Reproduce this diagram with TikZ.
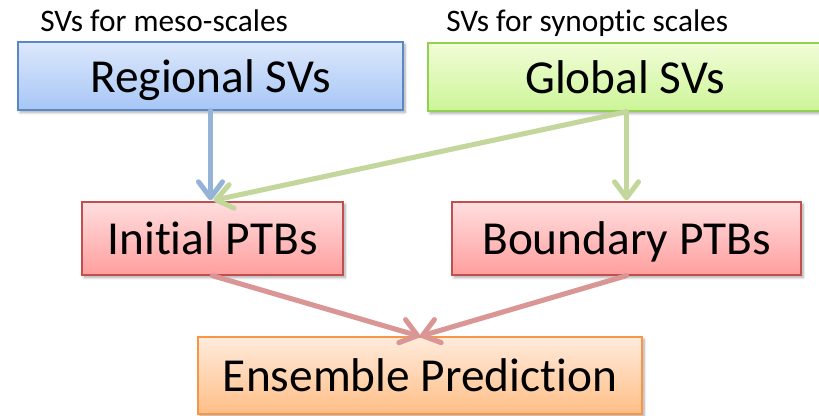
\documentclass[tikz,border=0pt]{standalone}
\usepackage{fontspec}
\setmainfont[Ligatures=NoCommon]{Carlito}
\usetikzlibrary{arrows.meta,shadows.blur,calc}
\definecolor{bluetop}{HTML}{DCE8FB}
\definecolor{bluebot}{HTML}{A7C6F6}
\definecolor{blueline}{HTML}{5B87C5}
\definecolor{greentop}{HTML}{F1FDD8}
\definecolor{greenbot}{HTML}{CCF597}
\definecolor{greenline}{HTML}{92D050}
\definecolor{redtop}{HTML}{FFDEDE}
\definecolor{redbot}{HTML}{FF9E9E}
\definecolor{redline}{HTML}{C0504D}
\definecolor{orangetop}{HTML}{FFEBDC}
\definecolor{orangebot}{HTML}{FFBE86}
\definecolor{orangeline}{HTML}{F79646}
\definecolor{bluearrow}{HTML}{95B3D7}
\definecolor{greenarrow}{HTML}{C3D69B}
\definecolor{redarrow}{HTML}{D99694}
\tikzset{
  box/.style={draw, line width=1pt, rectangle, inner sep=0pt,
    text height=24pt, text depth=0pt, font=\fontsize{35.5}{40}\selectfont,
    blur shadow={shadow xshift=1.5pt, shadow yshift=-1.8pt, shadow blur steps=6, shadow opacity=35, shadow blur radius=2pt}},
  bluebox/.style={box, draw=blueline, top color=bluetop, bottom color=bluebot},
  greenbox/.style={box, draw=greenline, top color=greentop, bottom color=greenbot},
  redbox/.style={box, draw=redline, top color=redtop, bottom color=redbot},
  orangebox/.style={box, draw=orangeline, top color=orangetop, bottom color=orangebot},
  conn/.style={line width=3.8pt, line cap=round, -{Straight Barb[length=12pt, width=18pt, line cap=round, line join=round]}},
  lbl/.style={font=\fontsize{23.5}{28}\selectfont, anchor=base west, inner sep=0pt}
}
\begin{document}
\begin{tikzpicture}[x=0.75pt,y=-0.75pt]
\useasboundingbox (0,0) rectangle (819,415);
\node[lbl] (l1) at (40,31.5) {SVs for meso-scales};
\node[lbl] (l2) at (446,31.5) {SVs for synoptic scales};
\node[bluebox, minimum width=385*0.75pt, minimum height=68*0.75pt] (reg) at (210.5,76) {Regional SVs};
\node[greenbox, minimum width=394*0.75pt, minimum height=68*0.75pt] (glob) at (625,77) {Global SVs};
\node[redbox, minimum width=261*0.75pt, minimum height=73*0.75pt] (ini) at (212.5,238.5) {Initial PTBs};
\node[redbox, minimum width=349*0.75pt, minimum height=73*0.75pt] (bnd) at (626.5,238.5) {Boundary PTBs};
\node[orangebox, minimum width=444*0.75pt, minimum height=77*0.75pt] (ens) at (420,375.5) {Ensemble Prediction};
\draw[conn, bluearrow] (reg.south) -- ($(reg.south |- ini.north)+(0,-1)$);
\draw[conn, greenarrow] (bnd.north |- glob.south) -- ($(bnd.north)+(0,-1)$);
\draw[conn, greenarrow] (bnd.north |- glob.south) -- ($(ini.north)+(1,-1)$);
\draw[conn, redarrow] (ini.south) -- (ens.north);
\draw[conn, redarrow] (bnd.south) -- (ens.north);
\end{tikzpicture}
\end{document}
